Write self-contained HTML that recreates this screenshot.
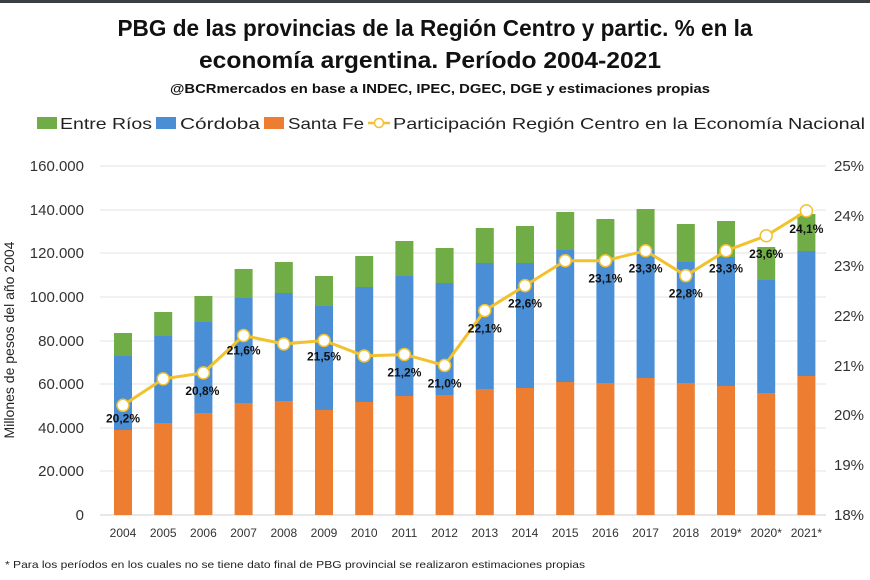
<!DOCTYPE html>
<html><head><meta charset="utf-8"><style>
html,body{margin:0;padding:0;background:#fff;}
svg{display:block;font-family:"Liberation Sans",sans-serif;}
</style></head><body>
<svg width="870" height="580" viewBox="0 0 870 580">
<rect x="0" y="0" width="870" height="580" fill="#fff"/>
<rect x="0" y="0" width="870" height="3" fill="#3a3f44"/>
<g font-weight="bold" fill="#111" text-anchor="middle">
<text x="435" y="36" font-size="23" textLength="635" lengthAdjust="spacingAndGlyphs">PBG de las provincias de la Región Centro y partic. % en la</text>
<text x="430" y="68" font-size="23" textLength="462" lengthAdjust="spacingAndGlyphs">economía argentina. Período 2004-2021</text>
<text x="440" y="93" font-size="13" textLength="540" lengthAdjust="spacingAndGlyphs">@BCRmercados  en base a INDEC, IPEC, DGEC, DGE y estimaciones propias</text>
</g>
<g font-size="16" fill="#222">
<rect x="37" y="117" width="20" height="12" fill="#70ad47"/>
<text x="60" y="129" textLength="92" lengthAdjust="spacingAndGlyphs">Entre Ríos</text>
<rect x="156" y="117" width="20" height="12" fill="#4a8fd6"/>
<text x="180" y="129" textLength="80" lengthAdjust="spacingAndGlyphs">Córdoba</text>
<rect x="264" y="117" width="20" height="12" fill="#ed7d31"/>
<text x="288" y="129" textLength="76" lengthAdjust="spacingAndGlyphs">Santa Fe</text>
<line x1="368" y1="123" x2="390" y2="123" stroke="#f2c12e" stroke-width="2.5"/>
<circle cx="379" cy="123" r="4.5" fill="#fff" stroke="#f2c12e" stroke-width="1.5"/>
<text x="393" y="129" textLength="472" lengthAdjust="spacingAndGlyphs">Participación Región Centro en la Economía Nacional</text>
</g>
<g stroke="#e3e3e3" stroke-width="1">
<line x1="100" y1="166" x2="826" y2="166"/><line x1="100" y1="210" x2="826" y2="210"/>
<line x1="100" y1="253" x2="826" y2="253"/><line x1="100" y1="297" x2="826" y2="297"/>
<line x1="100" y1="341" x2="826" y2="341"/><line x1="100" y1="384" x2="826" y2="384"/>
<line x1="100" y1="428" x2="826" y2="428"/><line x1="100" y1="471" x2="826" y2="471"/>
<line x1="100" y1="515" x2="826" y2="515" stroke="#cfcfcf"/>
</g>
<g font-size="15" fill="#333" text-anchor="end">
<text x="84" y="171">160.000</text><text x="84" y="215">140.000</text>
<text x="84" y="258">120.000</text><text x="84" y="302">100.000</text>
<text x="84" y="346">80.000</text><text x="84" y="389">60.000</text>
<text x="84" y="433">40.000</text><text x="84" y="476">20.000</text>
<text x="84" y="520">0</text>
</g>
<g font-size="15" fill="#333">
<text x="834" y="171">25%</text><text x="834" y="221">24%</text>
<text x="834" y="271">23%</text><text x="834" y="321">22%</text>
<text x="834" y="371">21%</text><text x="834" y="420">20%</text>
<text x="834" y="470">19%</text><text x="834" y="520">18%</text>
</g>
<text transform="translate(14,340) rotate(-90)" font-size="14" fill="#222" text-anchor="middle">Millones de pesos del año 2004</text>
<g id="bars"></g>
<g font-size="12" fill="#333" text-anchor="middle" id="xl"></g>
<polyline id="ln" fill="none" stroke="#f2c12e" stroke-width="3" stroke-linejoin="round"/>
<g id="pts"></g>
<g id="lbl" font-size="12" font-weight="bold" fill="#111" text-anchor="middle"></g>
<text x="5" y="568" font-size="10.5" fill="#222" textLength="580" lengthAdjust="spacingAndGlyphs">* Para los períodos en los cuales no se tiene dato final de PBG provincial se realizaron estimaciones propias</text>
<script>
var NS="http://www.w3.org/2000/svg";
function el(t,a,p,txt){var e=document.createElementNS(NS,t);for(var k in a)e.setAttribute(k,a[k]);if(txt)e.textContent=txt;document.getElementById(p).appendChild(e);return e;}
var yrs=["2004","2005","2006","2007","2008","2009","2010","2011","2012","2013","2014","2015","2016","2017","2018","2019*","2020*","2021*"];
var o=[430,423,413,403,401,410,402,396,395,389,388,382,383,378,383,386,393,376];
var b=[356,336,322,298,293,306,287,276,283,263,263,250,262,250,262,257,280,251];
var g=[333,312,296,269,262,276,256,241,248,228,226,212,219,209,224,221,247,214];
var p=[20.2,20.73,20.85,21.6,21.43,21.5,21.19,21.22,21.0,22.1,22.6,23.1,23.1,23.3,22.8,23.3,23.6,24.1];
var lab=[["20,2%",0,17],null,["20,8%",-1,22],["21,6%",0,19],null,["21,5%",0,20],null,["21,2%",0,22],["21,0%",0,22],["22,1%",0,22],["22,6%",0,22],null,["23,1%",0,22],["23,3%",0,22],["22,8%",0,22],["23,3%",0,22],["23,6%",0,22],["24,1%",0,22]];
var pts=[];
for(var i=0;i<18;i++){var x=123+i*40.2;
el("rect",{x:x-9,y:o[i],width:18,height:515-o[i],fill:"#ed7d31"},"bars");
el("rect",{x:x-9,y:b[i],width:18,height:o[i]-b[i],fill:"#4a8fd6"},"bars");
el("rect",{x:x-9,y:g[i],width:18,height:b[i]-g[i],fill:"#70ad47"},"bars");
el("text",{x:x,y:537},"xl",yrs[i]);
var y=515-(p[i]-18)*49.86;pts.push(x+","+y);
el("circle",{cx:x,cy:y,r:6,fill:"#fff",stroke:"#f2c12e","stroke-width":1.5},"pts");
if(lab[i])el("text",{x:x+lab[i][1],y:y+lab[i][2]},"lbl",lab[i][0]);
}
document.getElementById("ln").setAttribute("points",pts.join(" "));
</script>
</svg>
</body></html>
